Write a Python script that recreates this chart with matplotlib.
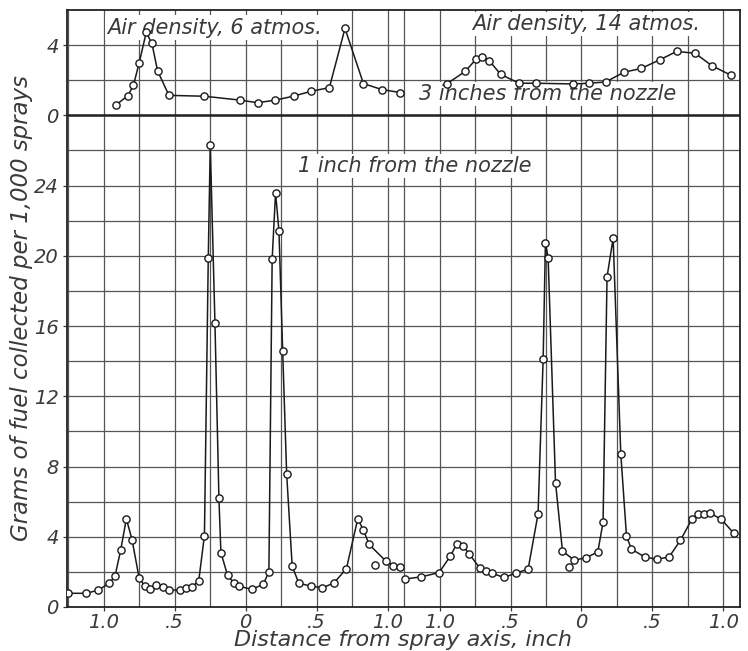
import numpy as np
from matplotlib import pyplot as plt

# ---- data (distance in inch, grams per 1,000 sprays) ----
# 3 inches from the nozzle, air density 6 atmos (upper left)
dist_3in_6 = [-0.91, -0.83, -0.79, -0.75, -0.70, -0.66, -0.62, -0.54, -0.29, -0.04,
              0.085, 0.21, 0.34, 0.46, 0.59, 0.70, 0.83, 0.96, 1.09]
fuel_3in_6 = [0.61, 1.12, 1.71, 2.99, 4.72, 4.10, 2.53, 1.14, 1.09, 0.87,
              0.72, 0.87, 1.10, 1.37, 1.58, 4.95, 1.81, 1.47, 1.30]

# 3 inches from the nozzle, air density 14 atmos (upper right)
dist_3in_14 = [-0.95, -0.82, -0.74, -0.70, -0.65, -0.57, -0.44, -0.32, -0.06, 0.05,
               0.17, 0.30, 0.42, 0.55, 0.67, 0.80, 0.92, 1.05]
fuel_3in_14 = [1.79, 2.50, 3.22, 3.35, 3.12, 2.34, 1.83, 1.83, 1.79, 1.83,
               1.90, 2.46, 2.67, 3.16, 3.64, 3.54, 2.82, 2.30]

# 1 inch from the nozzle, 6 atmos (lower left)
dist_1in_6 = [-1.25, -1.125, -1.04, -0.96, -0.92, -0.88, -0.84, -0.80, -0.75, -0.71,
              -0.67, -0.63, -0.58, -0.54, -0.46, -0.42, -0.38, -0.33, -0.29, -0.263,
              -0.249, -0.216, -0.188, -0.174, -0.127, -0.085, -0.045, 0.042, 0.124, 0.164,
              0.187, 0.211, 0.235, 0.261, 0.289, 0.328, 0.375, 0.46, 0.54, 0.62,
              0.71, 0.79, 0.83, 0.87, 0.99, 1.04, 1.09]
fuel_1in_6 = [0.78, 0.78, 0.95, 1.35, 1.76, 3.24, 5.02, 3.83, 1.65, 1.19,
              1.05, 1.27, 1.16, 0.97, 0.95, 1.10, 1.12, 1.50, 4.07, 19.9,
              26.3, 16.2, 6.2, 3.1, 1.8, 1.39, 1.19, 1.0, 1.29, 2.0,
              19.8, 23.6, 21.4, 14.6, 7.6, 2.33, 1.35, 1.19, 1.10, 1.35,
              2.18, 5.02, 4.38, 3.56, 2.6, 2.35, 2.25]

# 1 inch from the nozzle, 14 atmos (lower right)
dist_1in_14 = [-1.244, -1.127, -1.003, -0.923, -0.880, -0.834, -0.792, -0.716, -0.674, -0.627,
               -0.545, -0.463, -0.376, -0.306, -0.270, -0.254, -0.235, -0.183, -0.134, -0.052,
               0.035, 0.115, 0.152, 0.180, 0.223, 0.277, 0.317, 0.352, 0.446, 0.532,
               0.617, 0.697, 0.779, 0.821, 0.861, 0.903, 0.986, 1.073]
fuel_1in_14 = [1.59, 1.72, 1.96, 2.91, 3.57, 3.47, 3.04, 2.21, 2.06, 1.91,
               1.68, 1.93, 2.15, 5.30, 14.15, 20.75, 19.9, 7.09, 3.19, 2.67,
               2.81, 3.14, 4.83, 18.8, 21.0, 8.7, 4.04, 3.29, 2.85, 2.72,
               2.85, 3.80, 5.02, 5.30, 5.30, 5.36, 4.99, 4.20]

# stray readings not on the faired curves
stray_dist_6, stray_fuel_6 = [0.91], [2.37]
stray_dist_14, stray_fuel_14 = [-0.087], [2.29]

tick_dist = [-1.0, -0.5, 0.0, 0.5, 1.0]
tick_text = ['1.0', '.5', '0', '.5', '1.0']
ytick_text = ['0', '4', '8', '12', '16', '20', '24', '0', '4']

UP = 28        # upper (3 inch) curves are drawn shifted up by 28 units
RIGHT = 2.366  # 14 atmos half of the sheet is shifted right

plt.rcParams['font.family'] = 'DejaVu Sans'
plt.rcParams['font.style'] = 'italic'
ink = '#3a3a3a'

fig = plt.figure(figsize=(7.48, 6.51), dpi=100)
ax = fig.add_axes([0.0896, 0.0676, 0.8994, 0.9170])

# graph-paper grid
grid_kw = dict(color='#555555', lw=0.9, zorder=1)
for g in np.arange(-1.25, 1.01, 0.25):
    ax.axvline(g, **grid_kw)
    ax.axvline(g + RIGHT, **grid_kw)
for h in np.arange(2, 34, 2):
    ax.axhline(h, **grid_kw)
ax.axhline(UP, color='#222222', lw=1.8, zorder=1)

line_kw = dict(color='#1a1a1a', lw=1.1, marker='o', ms=5.2,
               mfc='white', mec='#1a1a1a', mew=1.0, zorder=3)
dot_kw = {k: v for k, v in line_kw.items() if k != 'lw'}

ax.plot(np.array(dist_3in_6), np.array(fuel_3in_6) + UP, **line_kw)
ax.plot(np.array(dist_3in_14) + RIGHT, np.array(fuel_3in_14) + UP, **line_kw)
ax.plot(dist_1in_6, fuel_1in_6, **line_kw)
ax.plot(np.array(dist_1in_14) + RIGHT, fuel_1in_14, **line_kw)
ax.plot(stray_dist_6, stray_fuel_6, ls='none', **dot_kw)
ax.plot(np.array(stray_dist_14) + RIGHT, stray_fuel_14, ls='none', **dot_kw)

ax.set_xlim(-1.258, 3.481)
ax.set_ylim(0, 34)

ax.set_xticks(tick_dist + [t + RIGHT for t in tick_dist])
ax.set_xticklabels(tick_text * 2)
ax.set_yticks(np.arange(0, 33, 4))
ax.set_yticklabels(ytick_text)
ax.tick_params(labelsize=14, colors=ink, length=3, width=0.9)
ax.tick_params(axis='x', pad=1)
ax.tick_params(axis='y', pad=3)

for s in ax.spines.values():
    s.set_color('#222222')
    s.set_linewidth(1.3)

ax.set_xlabel('Distance from spray axis, inch', fontsize=16, color=ink, labelpad=-1)
ax.set_ylabel('Grams of fuel collected per 1,000 sprays', fontsize=16.5, color=ink, labelpad=1)

box = dict(facecolor='white', edgecolor='none', pad=1.5)
ax.text(-0.22, 33.0, 'Air density, 6 atmos.', fontsize=15, color=ink,
        ha='center', va='center', bbox=box, zorder=2)
ax.text(2.40, 33.2, 'Air density, 14 atmos.', fontsize=15, color=ink,
        ha='center', va='center', bbox=box, zorder=2)
ax.text(2.13, 29.2, '3 inches from the nozzle', fontsize=15, color=ink,
        ha='center', va='center', bbox=box, zorder=2)
ax.text(1.19, 25.1, '1 inch from the nozzle', fontsize=15, color=ink,
        ha='center', va='center', bbox=box, zorder=2)

fig.savefig('out.png', dpi=100)
